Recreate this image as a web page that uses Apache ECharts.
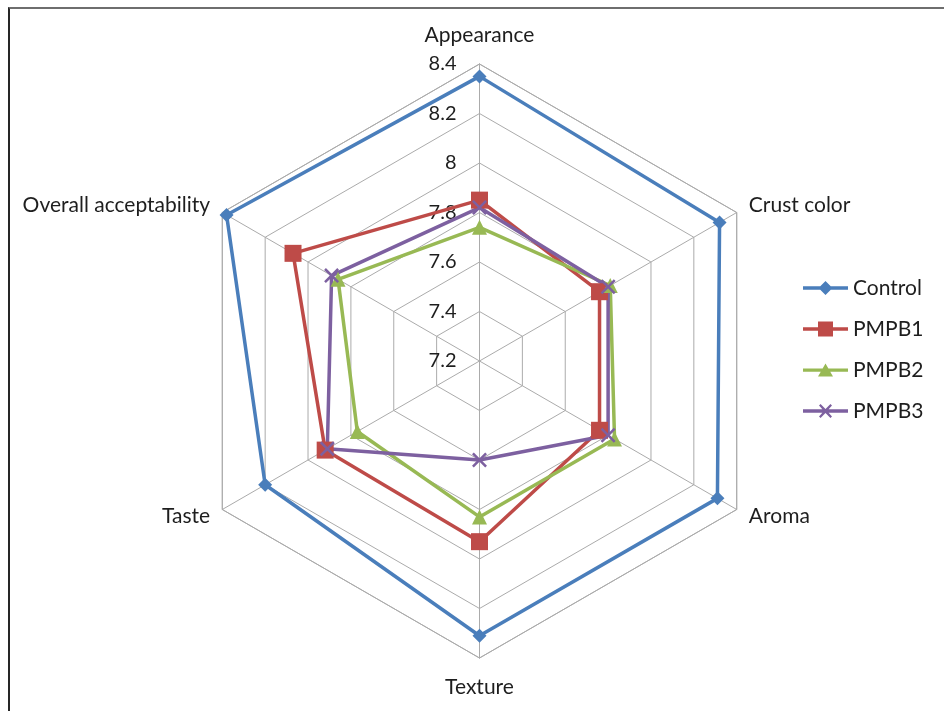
<!DOCTYPE html>
<html>
<head>
<meta charset="utf-8">
<script src="https://cdn.jsdelivr.net/npm/echarts@6/dist/echarts.min.js"></script>
<style>
  html, body { margin: 0; padding: 0; background: #fff; }
  #chart { width: 944px; height: 711px; position: relative; }
  #frame { position: absolute; left: 8px; top: 7px; width: 940px; height: 710px;
           border-top: 2px solid #6e6e6e; border-left: 2px solid #262626; pointer-events: none; }
</style>
</head>
<body>
<div style="position:relative;width:944px;height:711px;">
  <div id="chart"></div>
  <div id="frame"></div>
</div>
<script>
// Attributes in clockwise order starting from the top (as in the reference)
const categories = ['Appearance', 'Crust color', 'Aroma', 'Texture', 'Taste', 'Overall acceptability'];
const seriesNames = ['Control', 'PMPB1', 'PMPB2', 'PMPB3'];
const control = [8.35, 8.32, 8.31, 8.31, 8.20, 8.38];
const pmpb1   = [7.85, 7.76, 7.76, 7.93, 7.92, 8.07];
const pmpb2   = [7.74, 7.81, 7.83, 7.83, 7.77, 7.86];
const pmpb3   = [7.82, 7.80, 7.80, 7.60, 7.91, 7.89];
const axisMin = 7.2, axisMax = 8.4, axisSplits = 6;

// ECharts places indicators counter-clockwise; reorder so the drawing runs clockwise
const order = [0, 5, 4, 3, 2, 1];
const reorder = arr => order.map(i => arr[i]);

const FONT = 'Lato';
const TEXT = '#1e1e1e';
const colors = ['#4a7ebb', '#be4b48', '#98b954', '#7d60a0'];
const symbols = ['diamond', 'rect', 'triangle',
  'path://M0,1.2 L1.2,0 L5,3.8 L8.8,0 L10,1.2 L6.2,5 L10,8.8 L8.8,10 L5,6.2 L1.2,10 L0,8.8 L3.8,5 Z'];
const symbolSizes = [14, 17, 15, 15];
const values = [control, pmpb1, pmpb2, pmpb3];

// legend icons: a line with the series marker in the middle
const LINE = 'M0,5.8 L45,5.8 L45,9.2 L0,9.2 Z ';
const legendIcons = [
  'path://' + LINE + 'M22.5,0.5 L29.5,7.5 L22.5,14.5 L15.5,7.5 Z',
  'path://' + LINE + 'M15,0 L30,0 L30,15 L15,15 Z',
  'path://' + LINE + 'M22.5,0.8 L30,14 L15,14 Z',
  'path://' + LINE + 'M16,2.06 L17.56,0.5 L22.5,5.44 L27.44,0.5 L29,2.06 L24.06,7.5 L29,12.94 L27.44,14.5 L22.5,9.56 L17.56,14.5 L16,12.94 L20.94,7.5 Z'
];

const indicator = reorder(categories).map((name, i) => {
  const ind = { name: name, min: axisMin, max: axisMax };
  if (i === 0) ind.axisLabel = { show: true };
  return ind;
});

const chart = echarts.init(document.getElementById('chart'), null, { renderer: 'canvas' });
chart.setOption({
  animation: false,
  backgroundColor: '#ffffff',
  legend: {
    orient: 'vertical',
    left: 798,
    top: 272,
    itemWidth: 45,
    itemHeight: 15,
    itemGap: 19,
    data: seriesNames.map((n, k) => ({ name: n, icon: legendIcons[k] })),
    textStyle: { fontFamily: FONT, fontSize: 21, color: TEXT, lineHeight: 22 }
  },
  radar: {
    center: [479.5, 361],
    radius: 297,
    startAngle: 90,
    shape: 'polygon',
    splitNumber: axisSplits,
    indicator: indicator,
    nameGap: 14,
    axisName: { fontFamily: FONT, fontSize: 21, color: TEXT, lineHeight: 30 },
    axisLine: { show: true, lineStyle: { color: '#ababab', width: 1 } },
    splitLine: { show: true, lineStyle: { color: '#ababab', width: 1 } },
    splitArea: { show: false },
    axisTick: { show: false },
    axisLabel: { show: false, fontFamily: FONT, fontSize: 20, color: TEXT, margin: 23,
                 formatter: v => String(Math.round(v * 10) / 10) }
  },
  series: [{
    type: 'radar',
    data: values.map((arr, k) => ({
      name: seriesNames[k],
      value: reorder(arr),
      symbol: symbols[k],
      symbolSize: symbolSizes[k],
      lineStyle: { color: colors[k], width: 3.5 },
      itemStyle: { color: colors[k] }
    }))
  }]
});
</script>
</body>
</html>
